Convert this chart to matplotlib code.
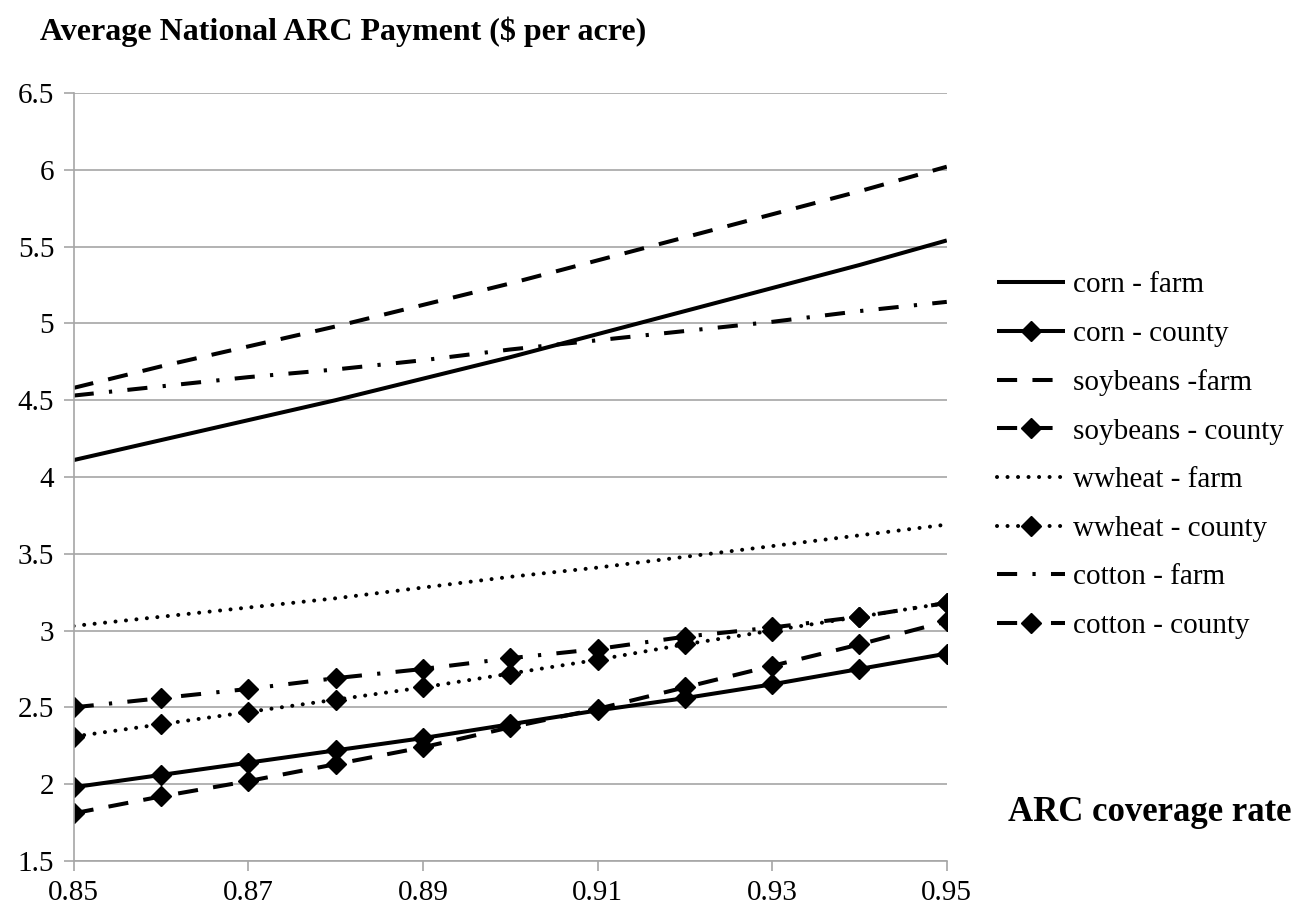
import numpy as np
import matplotlib.pyplot as plt

plt.rcParams['font.family'] = ['Liberation Serif', 'DejaVu Serif']

coverage = [0.85, 0.86, 0.87, 0.88, 0.89, 0.90, 0.91, 0.92, 0.93, 0.94, 0.95]

corn_farm = [4.11, 4.24, 4.37, 4.50, 4.64, 4.78, 4.93, 5.08, 5.23, 5.38, 5.54]
corn_county = [1.98, 2.06, 2.14, 2.22, 2.30, 2.39, 2.48, 2.56, 2.65, 2.75, 2.85]
soy_farm = [4.58, 4.72, 4.85, 4.98, 5.12, 5.26, 5.41, 5.56, 5.71, 5.86, 6.02]
soy_county = [1.81, 1.92, 2.02, 2.13, 2.24, 2.37, 2.49, 2.63, 2.77, 2.91, 3.06]
wheat_farm = [3.03, 3.09, 3.15, 3.21, 3.28, 3.35, 3.41, 3.48, 3.55, 3.62, 3.69]
wheat_county = [2.31, 2.39, 2.47, 2.55, 2.63, 2.72, 2.81, 2.91, 3.00, 3.09, 3.18]
cotton_farm = [4.53, 4.59, 4.65, 4.70, 4.76, 4.83, 4.89, 4.95, 5.01, 5.08, 5.14]
cotton_county = [2.50, 2.56, 2.62, 2.69, 2.75, 2.82, 2.88, 2.96, 3.02, 3.09, 3.18]

labels = ['corn - farm', 'corn - county', 'soybeans -farm', 'soybeans - county',
          'wwheat - farm', 'wwheat - county', 'cotton - farm', 'cotton - county']
yticks = [1.5, 2, 2.5, 3, 3.5, 4, 4.5, 5, 5.5, 6, 6.5]
xticks = [0.85, 0.87, 0.89, 0.91, 0.93, 0.95]

series = [corn_farm, corn_county, soy_farm, soy_county,
          wheat_farm, wheat_county, cotton_farm, cotton_county]

# dash patterns in units of line width
solid = (None, None)
dashed = (5.0, 3.8)
dotted = (0.01, 2.6)
dashdot = (5.0, 3.8, 0.8, 3.8)
styles = [solid, solid, dashed, dashed, dotted, dotted, dashdot, dashdot]
caps = ['butt', 'butt', 'butt', 'butt', 'round', 'round', 'butt', 'butt']
markers = [None, 'D', None, 'D', None, 'D', None, 'D']

fig = plt.figure(figsize=(12.95, 9.08), dpi=100)
ax = fig.add_axes([0.0569, 0.0518, 0.6742, 0.8458])

for vals, lab, st, cap, mk in zip(series, labels, styles, caps, markers):
    line, = ax.plot(coverage, vals, color='black', lw=2.9, marker=mk,
                    markersize=10, label=lab, dash_capstyle=cap,
                    solid_capstyle='butt')
    if st[0] is not None:
        line.set_dashes(st)

ax.set_xlim(0.85, 0.95)
ax.set_ylim(1.5, 6.5)
ax.set_xticks(xticks)
ax.set_xticklabels(['%.2f' % v for v in xticks])
ax.set_yticks(yticks)
ax.set_yticklabels(['%g' % v for v in yticks])
ax.grid(axis='y', color='#a6a6a6', lw=1.2)
ax.set_axisbelow(True)
for s in ['top', 'right']:
    ax.spines[s].set_visible(False)
for s in ['left', 'bottom']:
    ax.spines[s].set_color('#a6a6a6')
    ax.spines[s].set_linewidth(1.2)
ax.tick_params(axis='both', colors='#a6a6a6', labelcolor='black',
               labelsize=21, length=7, width=1.2)
ax.tick_params(axis='x', pad=7)
ax.tick_params(axis='y', pad=7)

fig.text(0.031, 0.965, 'Average National ARC Payment ($ per acre)',
         fontsize=23, fontweight='bold', va='center', ha='left')
fig.text(0.997, 0.105, 'ARC coverage rate', fontsize=25,
         fontweight='bold', va='center', ha='right')

ax.legend(loc='center left', bbox_to_anchor=(1.028, 0.528), frameon=False,
          fontsize=21, handlelength=2.3, labelspacing=0.76, handletextpad=0.3)

fig.savefig('out.png', dpi=100)
